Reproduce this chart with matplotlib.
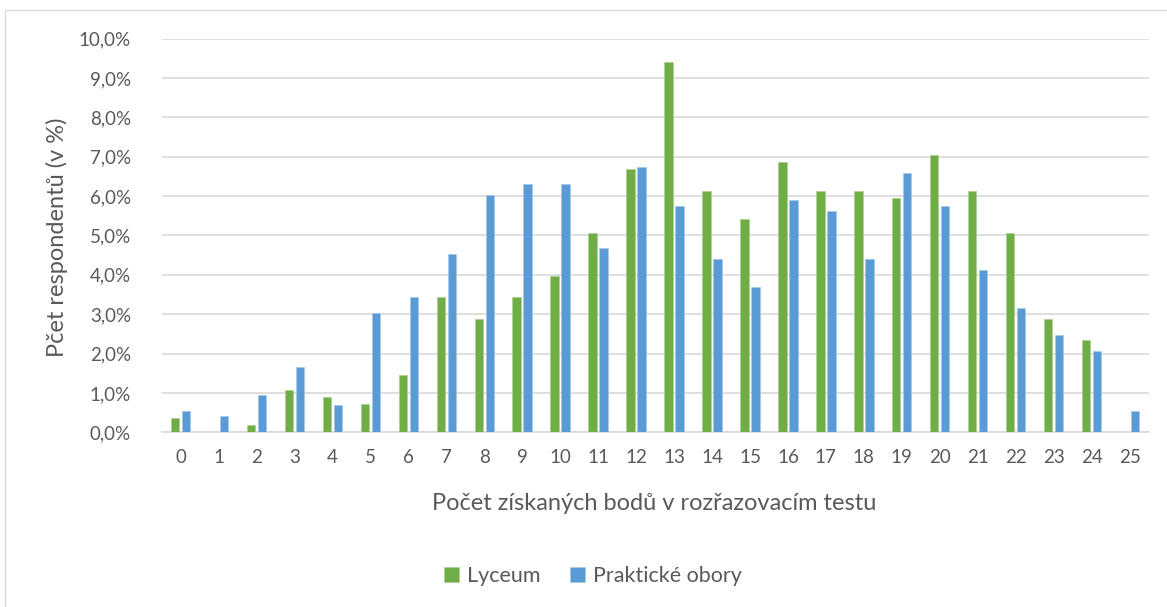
import matplotlib
matplotlib.use('Agg')
import matplotlib.pyplot as plt
import numpy as np
from matplotlib.patches import Rectangle
from matplotlib.ticker import FuncFormatter

plt.rcParams['font.family'] = ['Lato', 'DejaVu Sans']

# počet bodů
body = list(range(26))
# podíl respondentů v %
lyceum = [0.36, 0.0, 0.18, 1.08, 0.90, 0.72, 1.45, 3.43, 2.89, 3.43, 3.97, 5.05, 6.68,
          9.41, 6.14, 5.42, 6.87, 6.14, 6.14, 5.96, 7.04, 6.14, 5.05, 2.89, 2.35, 0.0]
prakticke = [0.54, 0.41, 0.96, 1.65, 0.69, 3.02, 3.43, 4.53, 6.04, 6.31, 6.31, 4.67, 6.73,
             5.76, 4.39, 3.70, 5.90, 5.62, 4.39, 6.59, 5.76, 4.12, 3.16, 2.47, 2.06, 0.55]

zelena = '#70AD47'
modra = '#5B9BD5'
seda_text = '#595959'

fig = plt.figure(figsize=(11.67, 6.07), dpi=100)
ax = fig.add_axes([0.1384, 0.2878, 0.8458, 0.6486])

x = np.arange(len(body))
ax.bar(x - 0.145, lyceum, width=0.22, color=zelena, edgecolor='#A9CF8F', linewidth=0.5,
       label='Lyceum', zorder=3)
ax.bar(x + 0.145, prakticke, width=0.22, color=modra, edgecolor='#A6C8EA', linewidth=0.5,
       label='Praktické obory', zorder=3)

ax.set_xlim(-0.5, len(body) - 0.5)
ax.set_ylim(0, 10)
ax.set_yticks(np.arange(0, 10.1, 1))
ax.yaxis.set_major_formatter(FuncFormatter(lambda v, p: f'{v:.1f}'.replace('.', ',') + '%'))
ax.set_xticks(x)
ax.set_xticklabels([str(b) for b in body])

ax.grid(True, axis='y', color='#D9D9D9', linewidth=1.2, zorder=0)
for s in ['top', 'right', 'left']:
    ax.spines[s].set_visible(False)
ax.spines['bottom'].set_color('#D9D9D9')
ax.spines['bottom'].set_linewidth(1.2)
ax.tick_params(axis='both', length=0, labelsize=13.5, colors=seda_text)
ax.tick_params(axis='y', pad=22)
ax.tick_params(axis='x', pad=12)

ax.set_xlabel('Počet získaných bodů v rozřazovacím testu', fontsize=17, color=seda_text)
ax.set_ylabel('Pčet respondentů (v %)', fontsize=17, color=seda_text)
ax.xaxis.set_label_coords(0.4995, -0.1796)
ax.yaxis.set_label_coords(-0.1059, 0.495)
ax.xaxis.label.set_va('center')
ax.yaxis.label.set_va('center')

fig.legend(loc='center', bbox_to_anchor=(0.508, 0.051), ncol=2, frameon=False,
           fontsize=15.5, labelcolor=seda_text, handlelength=0.7, handleheight=0.7,
           handletextpad=0.37, columnspacing=1.4)

# rámeček grafu
fig.patches.append(Rectangle((5 / 1167, -0.01), 1.0, 1 - 10 / 607 + 0.01,
                             transform=fig.transFigure, fill=False,
                             edgecolor='#D9D9D9', linewidth=1))

plt.savefig('out.png', dpi=100)
plt.close()
